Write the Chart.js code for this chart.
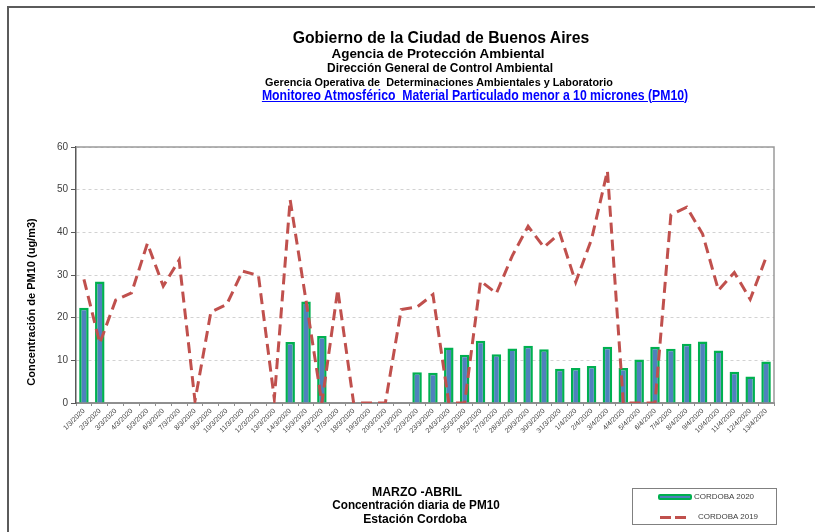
<!DOCTYPE html>
<html>
<head>
<meta charset="utf-8">
<script src="https://cdn.jsdelivr.net/npm/chart.js@4.4.1/dist/chart.umd.min.js"></script>
<style>
  body { margin: 0; background: #fff; font-family: 'Liberation Sans', Arial, sans-serif; }
  #wrap { position: relative; width: 815px; height: 532px; overflow: hidden; }
  #frame { position: absolute; left: 7px; top: 6px; width: 900px; height: 600px; border-top: 2px solid #5b5b5b; border-left: 2px solid #5b5b5b; }
  canvas { position: absolute; left: 0; top: 0; }
  .t { position: absolute; white-space: pre; font-weight: bold; color: #000; line-height: 1; transform-origin: center; }
  .link { color: #0000ff; text-decoration: underline; }
  #y-title { position: absolute; left: 31px; top: 302px; font-size: 11px; font-weight: bold; white-space: nowrap; transform: translate(-50%, -50%) rotate(-90deg); }
  #legend { position: absolute; left: 632px; top: 488px; width: 143px; height: 35px; border: 1px solid #808080; font-size: 8px; color: #404040; }
  #legend .item { position: absolute; left: 0; height: 10px; line-height: 10px; }
  #legend .label { position: absolute; white-space: nowrap; }
  #legend .bar-swatch { position: absolute; left: 25px; top: 2px; width: 30px; height: 2px; background: #4f81bd; border: 2px solid #00b050; border-radius: 2px; }
  #legend .dash { position: absolute; top: 4px; width: 11px; height: 3px; background: #c0504d; }
</style>
</head>
<body>
<div id="wrap">
  <canvas id="pm10-chart" width="815" height="532"></canvas>
  <div id="frame"></div>
  <div class="t fit" style="left:441px; top:29px; font-size:17px;" data-w="297">Gobierno de la Ciudad de Buenos Aires</div>
  <div class="t fit" style="left:438px; top:46.5px; font-size:13.5px;" data-w="213">Agencia de Protección Ambiental</div>
  <div class="t fit" style="left:440px; top:62px; font-size:12px;" data-w="226">Dirección General de Control Ambiental</div>
  <div class="t fit" style="left:439px; top:76.5px; font-size:11px;" data-w="348">Gerencia Operativa de  Determinaciones Ambientales y Laboratorio</div>
  <div class="t fit link" style="left:475px; top:87.5px; font-size:14px;" data-w="426">Monitoreo Atmosférico  Material Particulado menor a 10 micrones (PM10)</div>
  <div class="t fit" style="left:417px; top:486px; font-size:12px;" data-w="90">MARZO -ABRIL</div>
  <div class="t fit" style="left:416px; top:499px; font-size:12px;" data-w="167">Concentración diaria de PM10</div>
  <div class="t fit" style="left:415px; top:512.5px; font-size:12px;" data-w="104">Estación Cordoba</div>
  <div id="y-title">Concentración de PM10 (ug/m3)</div>
  <div id="legend"></div>
</div>
<script>
const labels = [
  '1/3/2020', '2/3/2020', '3/3/2020', '4/3/2020', '5/3/2020', '6/3/2020', '7/3/2020', '8/3/2020',
  '9/3/2020', '10/3/2020', '11/3/2020', '12/3/2020', '13/3/2020', '14/3/2020', '15/3/2020', '16/3/2020',
  '17/3/2020', '18/3/2020', '19/3/2020', '20/3/2020', '21/3/2020', '22/3/2020', '23/3/2020', '24/3/2020',
  '25/3/2020', '26/3/2020', '27/3/2020', '28/3/2020', '29/3/2020', '30/3/2020', '31/3/2020',
  '1/4/2020', '2/4/2020', '3/4/2020', '4/4/2020', '5/4/2020', '6/4/2020', '7/4/2020', '8/4/2020',
  '9/4/2020', '10/4/2020', '11/4/2020', '12/4/2020', '13/4/2020',
];

const cordoba2020 = [
  22.3, 28.5, null, null, null, null, null, null, null, null, null, null, null, 14.3, 23.8, 15.7,
  null, null, null, null, null, 7.2, 7.1, 13.0, 11.3, 14.6, 11.4, 12.8, 13.4, 12.6, 8.0,
  8.2, 8.7, 13.2, 8.2, 10.2, 13.2, 12.7, 13.9, 14.4, 12.3, 7.3, 6.2, 9.7,
];

const cordoba2019 = [
  29.0, 14.0, 24.1, 25.8, 37.4, 27.4, 33.5, 0.5, 21.3, 23.1, 30.9, 29.9, 1.0, 47.6, 24.0, 0,
  26.6, 0, 0, 0, 21.9, 22.5, 25.4, 0, 0, 28.6, 25.7, 34.5, 41.4, 36.5, 39.8,
  28.3, 38.4, 54.4, 0, 0, 0, 44.1, 45.9, 39.6, 26.4, 30.6, 24.3, 34.1,
];

const yTicks = [0, 10, 20, 30, 40, 50, 60];

const FONT = "'Liberation Sans', Arial, sans-serif";

// thin gray border on top and right of the plot area
const plotFrame = {
  id: 'plotFrame',
  beforeDatasetsDraw(chart) {
    const { ctx, chartArea } = chart;
    ctx.save();
    ctx.strokeStyle = '#9a9a9a';
    ctx.lineWidth = 1.5;
    ctx.beginPath();
    ctx.moveTo(chartArea.left, chartArea.top);
    ctx.lineTo(chartArea.right, chartArea.top);
    ctx.lineTo(chartArea.right, chartArea.bottom);
    ctx.stroke();
    ctx.restore();
  },
};

const fitTitles = () => {
  document.querySelectorAll('.fit').forEach((el) => {
    const scale = Number(el.dataset.w) / el.offsetWidth;
    el.style.transform = `translateX(-50%) scaleX(${scale})`;
  });
};

const renderLegend = (chart) => {
  const [bars, line] = chart.data.datasets;
  document.getElementById('legend').innerHTML = `
    <div class="item" style="top:3px;">
      <span class="bar-swatch"></span>
      <span class="label" style="left:61px;">${bars.label}</span>
    </div>
    <div class="item" style="top:23px;">
      <span class="dash" style="left:27px;"></span>
      <span class="dash" style="left:42px;"></span>
      <span class="label" style="left:65px;">${line.label}</span>
    </div>`;
};

const main = () => {
  const chart = new Chart(document.getElementById('pm10-chart'), {
    type: 'bar',
    data: {
      labels: labels,
      datasets: [
        {
          type: 'bar',
          label: 'CORDOBA 2020',
          data: cordoba2020,
          backgroundColor: '#4f81bd',
          borderColor: '#00b050',
          borderWidth: 2.5,
          barPercentage: 0.6,
          categoryPercentage: 1,
          order: 2,
        },
        {
          type: 'line',
          label: 'CORDOBA 2019',
          data: cordoba2019,
          borderColor: '#c0504d',
          borderWidth: 3,
          borderDash: [11, 6],
          pointRadius: 0,
          tension: 0,
          fill: false,
          order: 1,
        },
      ],
    },
    options: {
      responsive: false,
      devicePixelRatio: 1,
      animation: false,
      layout: { padding: { top: 147, right: 41, bottom: 97, left: 0 } },
      plugins: {
        legend: { display: false },
        tooltip: { enabled: false },
      },
      scales: {
        x: {
          grid: { offset: true, drawOnChartArea: false, tickLength: 3, color: '#8f8f8f' },
          border: { color: '#8f8f8f', width: 2 },
          ticks: {
            autoSkip: false,
            maxRotation: 45,
            minRotation: 45,
            padding: 1,
            color: '#404040',
            font: { size: 7, family: FONT },
          },
          afterFit: (scale) => { scale.height = 32; },
        },
        y: {
          min: yTicks[0],
          max: yTicks[yTicks.length - 1],
          afterBuildTicks: (scale) => { scale.ticks = yTicks.map((v) => ({ value: v })); },
          ticks: { padding: 3, color: '#404040', font: { size: 10, family: FONT } },
          grid: { color: '#d2d2d2', tickColor: '#595959', tickLength: 5, tickBorderDash: [] },
          border: { color: '#595959', width: 1.5, dash: [3, 3] },
          afterFit: (scale) => { scale.width = 76; },
        },
      },
    },
    plugins: [plotFrame],
  });
  renderLegend(chart);
  fitTitles();
};

main();
</script>
</body>
</html>
